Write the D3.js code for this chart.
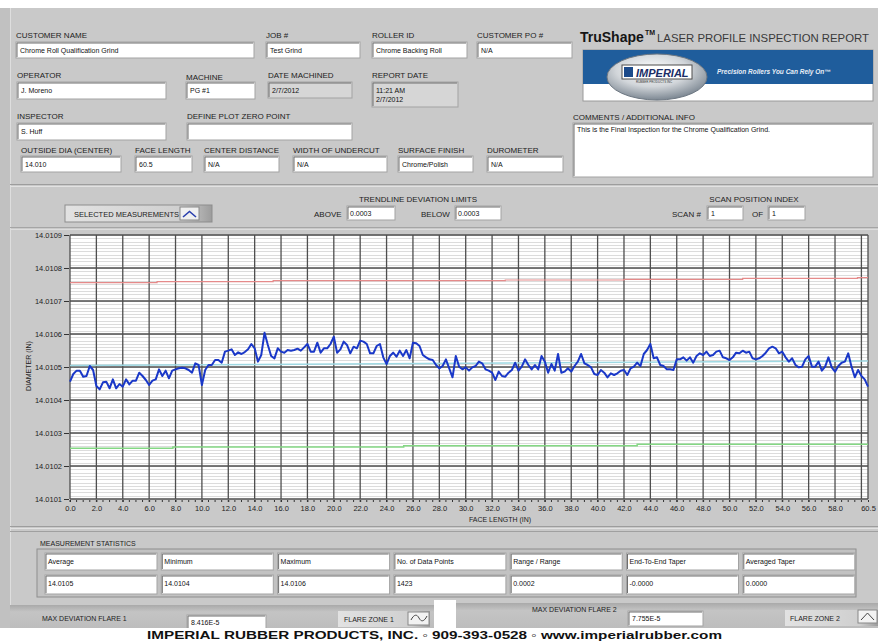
<!DOCTYPE html>
<html>
<head>
<meta charset="utf-8">
<script src="https://cdn.jsdelivr.net/npm/d3@7"></script>
<style>
body { margin: 0; background: #fff; }
svg { display: block; font-family: "Liberation Sans", Arial, sans-serif; }
</style>
</head>
<body>
<svg id="chart" width="878" height="641"></svg>
<script>
// ---- measured profile (one reading every faceStep inches) ----
const faceStep = 0.25;
const diameter = [
  14.0104556,14.0104788,14.0104889,14.0104889,14.0104707,14.0104727,14.0105030,14.0104909,14.0104424,14.0104323,
  14.0104535,14.0104556,14.0104354,14.0104626,14.0104354,14.0104485,14.0104404,14.0104626,14.0104475,14.0104586,
  14.0104586,14.0104828,14.0104727,14.0104606,14.0104455,14.0104586,14.0104626,14.0104929,14.0104727,14.0104889,
  14.0104657,14.0104889,14.0104929,14.0104960,14.0104980,14.0104960,14.0104909,14.0104828,14.0105111,14.0105061,
  14.0104455,14.0104909,14.0105061,14.0105061,14.0105212,14.0105212,14.0105131,14.0105465,14.0105495,14.0105535,
  14.0105364,14.0105444,14.0105394,14.0105454,14.0105535,14.0105697,14.0105566,14.0105162,14.0105364,14.0106040,
  14.0105667,14.0105333,14.0105263,14.0105566,14.0105465,14.0105434,14.0105515,14.0105495,14.0105515,14.0105555,
  14.0105495,14.0105596,14.0105697,14.0105465,14.0105465,14.0105737,14.0105434,14.0105566,14.0105566,14.0105697,
  14.0105919,14.0105434,
  14.0105535,14.0105768,14.0105667,14.0105414,14.0105616,14.0105566,14.0105798,14.0105768,14.0105697,14.0105414,
  14.0105414,14.0105636,14.0105697,14.0105293,14.0105091,14.0105333,14.0105434,14.0105313,14.0105495,14.0105333,
  14.0105515,14.0105263,14.0105737,14.0105717,14.0105636,14.0105364,14.0105293,14.0105232,14.0105212,14.0105061,
  14.0104960,14.0105030,14.0105232,14.0104960,14.0104687,14.0105333,14.0105010,14.0104929,14.0104990,14.0104889,
  14.0104990,14.0105030,14.0105162,14.0105111,14.0104929,14.0104889,14.0104828,14.0104606,14.0104859,14.0104727,
  14.0104707,14.0104828,14.0104909,14.0105131,14.0104889,14.0105010,14.0105232,14.0105061,14.0104929,14.0105061,
  14.0104929,14.0105333,14.0105162,14.0104828,14.0105091,14.0104889,14.0105394,14.0104828,14.0104859,14.0104960,
  14.0104859,14.0105030,14.0105162,14.0105394,14.0105111,14.0105061,14.0104990,14.0104788,14.0104758,
  14.0104909,14.0104828,14.0104687,14.0104808,14.0104758,14.0104808,14.0104889,14.0104909,14.0104758,14.0104960,
  14.0105010,14.0105131,14.0105030,14.0105394,14.0105515,14.0105697,14.0105263,14.0105293,14.0105061,14.0105030,
  14.0104929,14.0104929,14.0104909,14.0105232,14.0105232,14.0105293,14.0105192,14.0105293,14.0105131,14.0105333,
  14.0105414,14.0105364,14.0105465,14.0105333,14.0105364,14.0105465,14.0105495,14.0105293,14.0105263,14.0105212,
  14.0105293,14.0105434,14.0105414,14.0105495,14.0105434,14.0105465,14.0105263,14.0105232,14.0105263,14.0105333,
  14.0105434,14.0105566,14.0105616,14.0105566,14.0105414,14.0105465,14.0105293,14.0105162,14.0105263,14.0105061,
  14.0104990,14.0105010,14.0105232,14.0105333,14.0105010,14.0105010,14.0105162,14.0104889,14.0105010,14.0105293,
  14.0104990,14.0104859,14.0105030,14.0105131,14.0105162,14.0105414,14.0105010,14.0104687,14.0104909,14.0104727,
  14.0104626,14.0104404
];

// trendline and deviation limits: [face length, diameter]
const trendline = [[0, 14.0105045], [60.5, 14.0105182]];
const upperLimit = [[0, 14.0107555], [6.6, 14.0107585], [15.4, 14.0107615], [33, 14.0107636], [42, 14.0107658], [51, 14.0107688], [59.7, 14.0107706], [60.5, 14.0107706]];
const lowerLimit = [[0, 14.0102536], [7.8, 14.0102576], [25.3, 14.0102615], [43, 14.0102658], [60.5, 14.0102658]];

// axis ticks
const yTicks = [14.0101, 14.0102, 14.0103, 14.0104, 14.0105, 14.0106, 14.0107, 14.0108, 14.0109];
const xTicks = [0, 2, 4, 6, 8, 10, 12, 14, 16, 18, 20, 22, 24, 26, 28, 30, 32, 34, 36, 38, 40, 42, 44, 46, 48, 50, 52, 54, 56, 58, 60.5];
const xGrid = [0, 2, 4, 6, 8, 10, 12, 14, 16, 18, 20, 22, 24, 26, 28, 30, 32, 34, 36, 38, 40, 42, 44, 46, 48, 50, 52, 54, 56, 58, 60, 60.5];

// report header fields
const fieldLabels = ["CUSTOMER NAME", "JOB #", "ROLLER ID", "CUSTOMER PO #", "OPERATOR", "MACHINE", "DATE MACHINED", "REPORT DATE",
  "INSPECTOR", "DEFINE PLOT ZERO POINT", "OUTSIDE DIA (CENTER)", "FACE LENGTH", "CENTER DISTANCE", "WIDTH OF UNDERCUT", "SURFACE FINISH", "DUROMETER"];
const fieldValues = ["Chrome Roll Qualification Grind", "Test Grind", "Chrome Backing Roll", "N/A", "J. Moreno", "PG #1", "2/7/2012", "11:21 AM|2/7/2012",
  "S. Huff", "", "14.010", "60.5", "N/A", "N/A", "Chrome/Polish", "N/A"];
const commentText = "This is the Final Inspection for the Chrome Qualification Grind.";

// measurement statistics
const statLabels = ["Average", "Minimum", "Maximum", "No. of Data Points", "Range / Range", "End-To-End Taper", "Averaged Taper"];
const statValues = ["14.0105", "14.0104", "14.0106", "1423", "0.0002", "-0.0000", "0.0000"];
const flareValues = ["8.416E-5", "7.755E-5"];
const limitValues = ["0.0003", "0.0003"];
const scanValues = ["1", "1"];

/* ------------------------------------------------------------------ */

const svg = d3.select("#chart");
const W = 878;

const defs = svg.append("defs");
const btnGrad = defs.append("linearGradient").attr("id", "btn");
btnGrad.append("stop").attr("offset", "0%").attr("stop-color", "#e2e2e2");
btnGrad.append("stop").attr("offset", "80%").attr("stop-color", "#cfcfcf");
btnGrad.append("stop").attr("offset", "100%").attr("stop-color", "#9c9c9c");
const stripGrad = defs.append("linearGradient").attr("id", "strip").attr("x1", 0).attr("x2", 0).attr("y1", 0).attr("y2", 1);
stripGrad.append("stop").attr("offset", "0%").attr("stop-color", "#a9a9a9");
stripGrad.append("stop").attr("offset", "30%").attr("stop-color", "#c4c4c4");
stripGrad.append("stop").attr("offset", "100%").attr("stop-color", "#bdbdbd");
const silver = defs.append("radialGradient").attr("id", "silver").attr("cx", "45%").attr("cy", "35%").attr("r", "65%");
silver.append("stop").attr("offset", "0%").attr("stop-color", "#ffffff");
silver.append("stop").attr("offset", "55%").attr("stop-color", "#d2d6da");
silver.append("stop").attr("offset", "100%").attr("stop-color", "#7d8893");

// panels
svg.append("rect").attr("x", 0).attr("y", 8).attr("width", W).attr("height", 620).attr("fill", "#c9c9c9");
svg.append("rect").attr("x", 0).attr("y", 8).attr("width", 10).attr("height", 620).attr("fill", "#c1c1c1");
svg.append("line").attr("x1", 10.5).attr("x2", 10.5).attr("y1", 8).attr("y2", 628).attr("stroke", "#dedede");
[[184.5, "#9d9d9d"], [186.5, "#e2e2e2"], [227.5, "#a5a5a5"], [229.5, "#dddddd"], [526.5, "#9d9d9d"], [528.5, "#e2e2e2"], [531.5, "#a0a0a0"]]
  .forEach(([y, c]) => svg.append("line").attr("x1", 10).attr("x2", W).attr("y1", y).attr("y2", y).attr("stroke", c));

function label(x, y, t, size, anchor) {
  return svg.append("text").attr("x", x).attr("y", y).attr("font-size", size || 8)
    .attr("fill", "#222").attr("text-anchor", anchor || "start").text(t);
}

function box(x, y, w, h, fill) {
  svg.append("rect").attr("x", x).attr("y", y).attr("width", w).attr("height", h)
    .attr("fill", fill || "#fff").attr("stroke", "#a3a3a3");
  svg.append("path").attr("d", `M${x + 1},${y + h - 1}V${y + 1}H${x + w - 1}`)
    .attr("fill", "none").attr("stroke", "#6f6f6f");
}

function boxText(x, y, t) {
  return svg.append("text").attr("x", x).attr("y", y).attr("font-size", 7).attr("fill", "#111").text(t);
}

// header fields: [x, y, w, h, labelBaseline]
const fieldBoxes = [
  [16, 42, 238, 16, 37.5], [266, 42, 94, 16, 37.5], [372, 42, 95, 16, 37.5], [477, 42, 95, 16, 37.5],
  [17, 82, 149, 17, 78], [186, 82, 69, 17, 80], [268, 82, 84, 16, 78], [372, 82, 86, 25, 78],
  [17, 123, 149, 17, 119], [187, 123, 165, 17, 119],
  [21, 156, 100, 16, 153], [135, 156, 57, 16, 153], [204, 156, 75, 16, 153], [293, 156, 94, 16, 153], [398, 156, 75, 16, 153], [487, 156, 76, 16, 153]
];
fieldBoxes.forEach(([x, y, w, h, ly], i) => {
  label(x, ly, fieldLabels[i]);
  const indicator = fieldLabels[i] === "DATE MACHINED" || fieldLabels[i] === "REPORT DATE";
  box(x, y, w, h, indicator ? "#d6d6d6" : "#fff");
  fieldValues[i].split("|").forEach((line, j) => boxText(x + 4, y + 11 + j * 8.5, line));
});

label(573, 120, "COMMENTS / ADDITIONAL INFO");
box(573, 123, 300, 54);
boxText(577, 131.5, commentText);

// title
svg.append("text").attr("x", 580).attr("y", 42).attr("font-size", 14).attr("font-weight", "bold").attr("fill", "#151515").text("TruShape");
svg.append("text").attr("x", 645).attr("y", 35).attr("font-size", 7).attr("font-weight", "bold").attr("fill", "#151515").text("TM");
svg.append("text").attr("x", 657).attr("y", 42).attr("font-size", 11).attr("fill", "#3a3a3a")
  .attr("textLength", 212).attr("lengthAdjust", "spacingAndGlyphs").text("LASER PROFILE INSPECTION REPORT");

// logo banner
svg.append("rect").attr("x", 583).attr("y", 50).attr("width", 290).attr("height", 51).attr("fill", "#fff").attr("stroke", "#9a9a9a");
svg.append("rect").attr("x", 583).attr("y", 50).attr("width", 290).attr("height", 34).attr("fill", "#1f5d9c");
svg.append("ellipse").attr("cx", 657).attr("cy", 77).attr("rx", 50).attr("ry", 23).attr("fill", "url(#silver)").attr("stroke", "#6d7782");
svg.append("rect").attr("x", 622).attr("y", 65).attr("width", 70).attr("height", 14).attr("fill", "#fff").attr("stroke", "#4d4d4d");
svg.append("rect").attr("x", 624).attr("y", 67).attr("width", 9).attr("height", 10).attr("fill", "#1c4a8a");
svg.append("text").attr("x", 636).attr("y", 76.5).attr("font-size", 11).attr("font-weight", "bold").attr("font-style", "italic")
  .attr("fill", "#1a2d66").text("IMPERIAL");
svg.append("text").attr("x", 636).attr("y", 83).attr("font-size", 3).attr("fill", "#333").text("RUBBER PRODUCTS INC");
svg.append("text").attr("x", 717).attr("y", 74).attr("font-size", 6.5).attr("font-weight", "bold").attr("font-style", "italic")
  .attr("fill", "#e8eef6").text("Precision Rollers You Can Rely On\u2122");

// chart controls
svg.append("rect").attr("x", 65).attr("y", 205).attr("width", 147).attr("height", 17).attr("fill", "url(#btn)").attr("stroke", "#8d8d8d");
label(74, 216.5, "SELECTED MEASUREMENTS", 7.5);
svg.append("rect").attr("x", 180).attr("y", 207).attr("width", 19).attr("height", 13).attr("fill", "#f0f0f0").attr("stroke", "#888");
svg.append("path").attr("d", "M183,217L189.5,211.5L196,217").attr("fill", "none").attr("stroke", "#2a3fae").attr("stroke-width", 1.6);

label(418, 202, "TRENDLINE DEVIATION LIMITS", 8, "middle");
label(314, 217, "ABOVE", 8);
box(347, 206, 48, 14);
boxText(350, 216, limitValues[0]);
label(421, 217, "BELOW", 8);
box(455, 206, 46, 14);
boxText(458, 216, limitValues[1]);

label(754, 202, "SCAN POSITION INDEX", 8, "middle");
label(672, 217, "SCAN #", 8);
box(707, 206, 36, 14);
boxText(711, 216, scanValues[0]);
label(752, 217, "OF", 8);
box(768, 206, 37, 14);
boxText(772, 216, scanValues[1]);

/* ---------------------------- plot ---------------------------- */

const x = d3.scaleLinear().domain([0, 60.5]).range([70, 868]);
const y = d3.scaleLinear().domain([14.0101, 14.0109]).range([499, 235]);

const plot = svg.append("g");
plot.append("rect").attr("x", x(0)).attr("y", y(14.0109)).attr("width", x(60.5) - x(0)).attr("height", y(14.0101) - y(14.0109)).attr("fill", "#fff");

plot.append("g").selectAll("line").data(y.ticks(80)).join("line")
  .attr("x1", x(0)).attr("x2", x(60.5)).attr("y1", d => Math.round(y(d)) + 0.5).attr("y2", d => Math.round(y(d)) + 0.5)
  .attr("stroke", "#dcdcdc");
plot.append("g").selectAll("line").data(yTicks).join("line")
  .attr("x1", x(0)).attr("x2", x(60.5)).attr("y1", d => y(d)).attr("y2", d => y(d))
  .attr("stroke", "#4f4f4f").attr("stroke-width", 1.3);
plot.append("g").selectAll("line").data(xGrid).join("line")
  .attr("x1", d => x(d)).attr("x2", d => x(d)).attr("y1", y(14.0109)).attr("y2", y(14.0101))
  .attr("stroke", "#4f4f4f").attr("stroke-width", 1.3);

const limitLine = d3.line().x(d => x(d[0])).y(d => y(d[1])).curve(d3.curveStepAfter);
plot.append("path").datum(upperLimit).attr("d", limitLine).attr("fill", "none").attr("stroke", "#e58a8a").attr("stroke-width", 1.2);
plot.append("path").datum(lowerLimit).attr("d", limitLine).attr("fill", "none").attr("stroke", "#84d884").attr("stroke-width", 1.5);
plot.append("path").datum(trendline).attr("d", d3.line().x(d => x(d[0])).y(d => y(d[1])))
  .attr("fill", "none").attr("stroke", "#9fd9e3").attr("stroke-width", 1.5);

plot.append("path").datum(diameter)
  .attr("d", d3.line().x((d, i) => x(i * faceStep)).y(d => y(d)))
  .attr("fill", "none").attr("stroke", "#1a38c8").attr("stroke-width", 2).attr("stroke-linejoin", "round");

// axes
const yAxis = svg.append("g").attr("transform", `translate(${x(0) - 1},0)`)
  .call(d3.axisLeft(y).tickValues(yTicks).tickFormat(d3.format(".4f")).tickSize(5).tickPadding(2));
const xAxis = svg.append("g").attr("transform", `translate(0,${y(14.0101) + 1})`)
  .call(d3.axisBottom(x).tickValues(xTicks).tickFormat(d3.format(".1f")).tickSize(2).tickPadding(4));
svg.append("g").selectAll("line").data(d3.range(0, 60.5, 0.5)).join("line")
  .attr("x1", d => x(d)).attr("x2", d => x(d)).attr("y1", y(14.0101) + 1).attr("y2", y(14.0101) + 3)
  .attr("stroke", "#333");
[yAxis, xAxis].forEach(a => {
  a.select(".domain").remove();
  a.selectAll("text").attr("font-size", 7.5).attr("fill", "#222").attr("font-family", "Liberation Sans, Arial, sans-serif");
  a.selectAll(".tick line").attr("stroke", "#333");
});

svg.append("text").attr("transform", "translate(31,366) rotate(-90)").attr("text-anchor", "middle")
  .attr("font-size", 7).attr("fill", "#222").text("DIAMETER (IN)");
label(500, 522, "FACE LENGTH (IN)", 7, "middle");

/* ------------------------- statistics ------------------------- */

label(40, 546, "MEASUREMENT STATISTICS", 7);
svg.append("rect").attr("x", 37).attr("y", 549).attr("width", 819).attr("height", 48).attr("fill", "#c2c2c2").attr("stroke", "#8e8e8e");
statLabels.forEach((t, i) => {
  const cx = 45 + i * 116.3;
  box(cx, 553, 112, 17);
  boxText(cx + 3, 563.5, t);
  box(cx, 575, 112, 19);
  boxText(cx + 3, 586, statValues[i]);
});

// flare strips
svg.append("rect").attr("x", 10).attr("y", 605).attr("width", 424).attr("height", 23).attr("fill", "url(#strip)");
svg.append("rect").attr("x", 434).attr("y", 600).attr("width", 22).attr("height", 28).attr("fill", "#fff");
svg.append("rect").attr("x", 456).attr("y", 603).attr("width", 422).attr("height", 25).attr("fill", "url(#strip)");

label(42, 621, "MAX DEVIATION FLARE 1", 7);
box(187, 615, 79, 15);
boxText(191, 625, flareValues[0]);
svg.append("rect").attr("x", 338).attr("y", 611).attr("width", 92).attr("height", 16).attr("fill", "url(#btn)");
label(344, 622, "FLARE ZONE 1", 7);
svg.append("rect").attr("x", 408).attr("y", 612).attr("width", 21).attr("height", 13).attr("fill", "#f2f2f2").attr("stroke", "#888");
svg.append("path").attr("d", "M411,620C414,614 417,614 419,618S424,622 427,616").attr("fill", "none").attr("stroke", "#444").attr("stroke-width", 1);

label(532, 612, "MAX DEVIATION FLARE 2", 7);
box(628, 611, 75, 15);
boxText(632, 621, flareValues[1]);
svg.append("rect").attr("x", 785).attr("y", 610).attr("width", 93).attr("height", 16).attr("fill", "url(#btn)");
label(790, 621, "FLARE ZONE 2", 7);
svg.append("rect").attr("x", 858).attr("y", 610).attr("width", 19).attr("height", 13).attr("fill", "#f2f2f2").attr("stroke", "#888");
svg.append("path").attr("d", "M861,620L867.5,613L874,620").attr("fill", "none").attr("stroke", "#444").attr("stroke-width", 1);

// footer
svg.append("rect").attr("x", 0).attr("y", 628).attr("width", W).attr("height", 13).attr("fill", "#fff");
svg.append("text").attr("x", 147).attr("y", 638.5).attr("font-size", 11.5).attr("font-weight", "bold").attr("fill", "#111")
  .attr("textLength", 575).attr("lengthAdjust", "spacingAndGlyphs")
  .text("IMPERIAL RUBBER PRODUCTS, INC.  \u25E6  909-393-0528  \u25E6  www.imperialrubber.com");
</script>
</body>
</html>
